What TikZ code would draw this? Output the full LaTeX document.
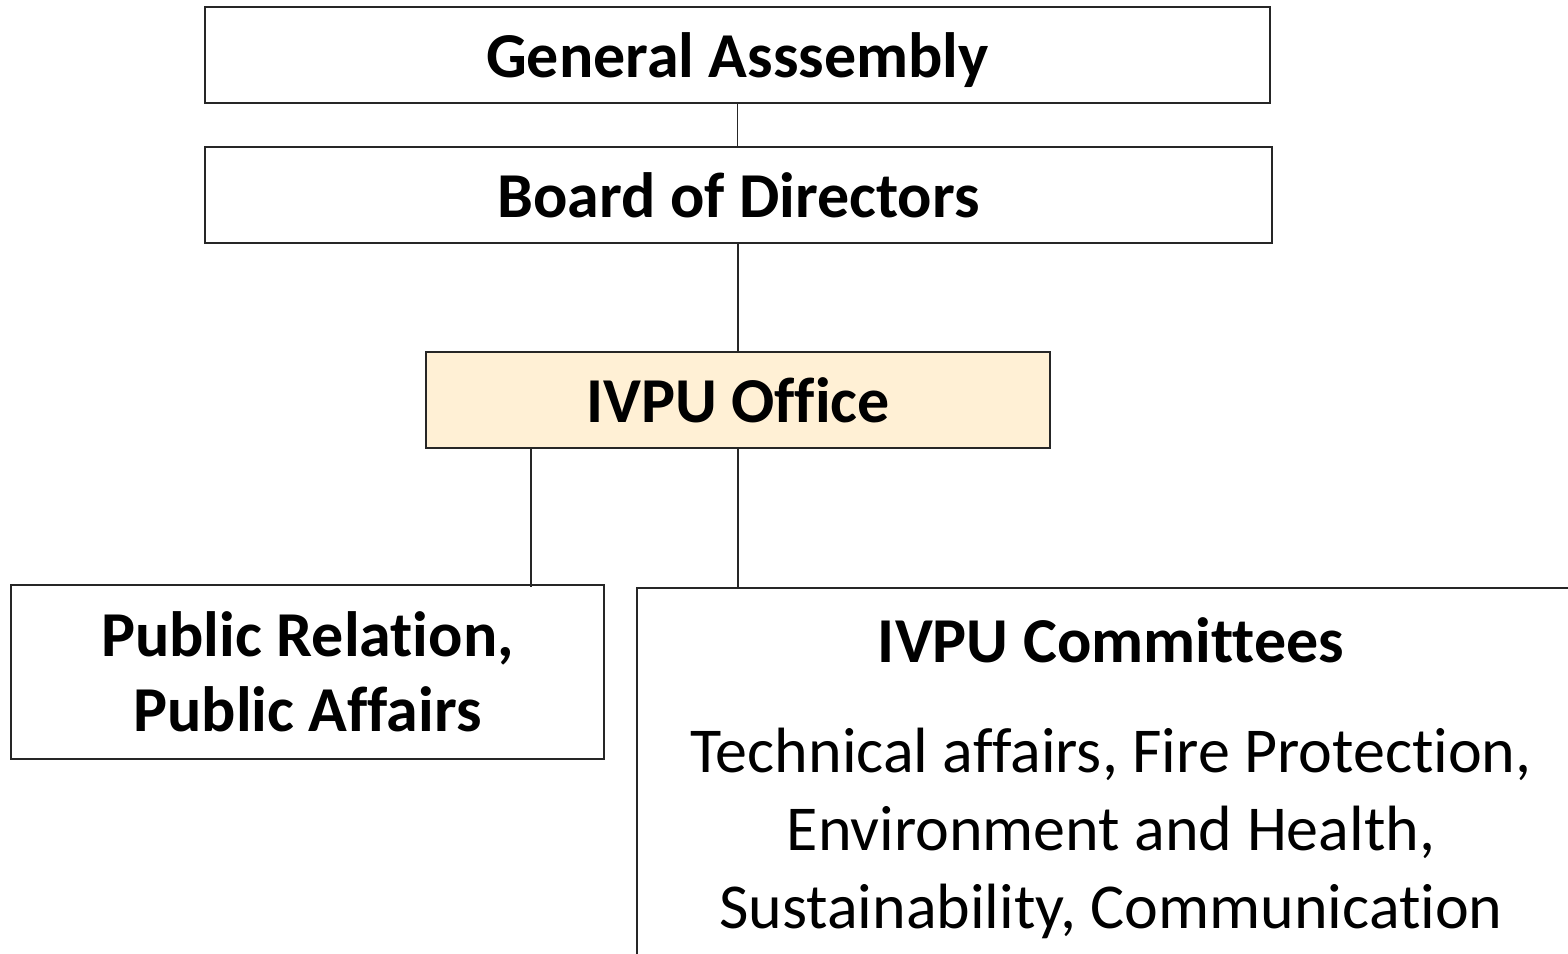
\documentclass[tikz,border=0pt]{standalone}
\usepackage{fontspec}
\setmainfont{Carlito}[Ligatures=CommonOff]
\usetikzlibrary{positioning}
\definecolor{officefill}{RGB}{255,240,213}

\begin{document}
\begin{tikzpicture}[x=1pt,y=-1pt,
    unit/.style={draw=black!85, line width=1.6pt, rectangle, inner sep=0pt,
                 font=\fontsize{64}{75}\selectfont\bfseries, align=center},
    link/.style={draw=black!85, line width=1.6pt}]
% Fix the page to the size of the chart
\useasboundingbox (0,0) rectangle (1568,953);
\clip (0,0) rectangle (1568,953);
% The top two levels sit one under the other
\node[unit, text depth=0pt, minimum width=1065pt, minimum height=96pt] (ga) at (737.5,55) {General Asssembly};
\node[unit, minimum width=1067pt, minimum height=96pt] (bod) at (738.5,195) {Board of Directors};
% The office is the only coloured box
\node[unit, fill=officefill, minimum width=624pt, minimum height=96pt] (office) at (738,400) {IVPU Office};
% Lower level, the committees box runs off the page
\node[unit, minimum width=593pt, minimum height=174pt] (pr) at (307.5,672) {Public Relation,\\Public Affairs};
\node[unit, minimum width=948pt, minimum height=390pt] (com) at (1111,783) {};
\node[font=\fontsize{64}{75}\selectfont\bfseries] (comtitle) at (1111,640) {IVPU Committees};
\node[font=\fontsize{64}{78}\selectfont, align=center] (combody) at (1111,833)
    {Technical affairs, Fire Protection,\\Environment and Health,\\Sustainability, Communication};
% Connectors between the levels
\coordinate (prjoin) at (531,587);
\draw[link] (ga.south) -- (ga.south |- bod.north);
\draw[link] (bod.south -| office.north) -- (office.north);
\draw[link] (office.south -| prjoin) -- (prjoin);
\draw[link] (office.south) -- (office.south |- com.north);
\end{tikzpicture}
\end{document}
